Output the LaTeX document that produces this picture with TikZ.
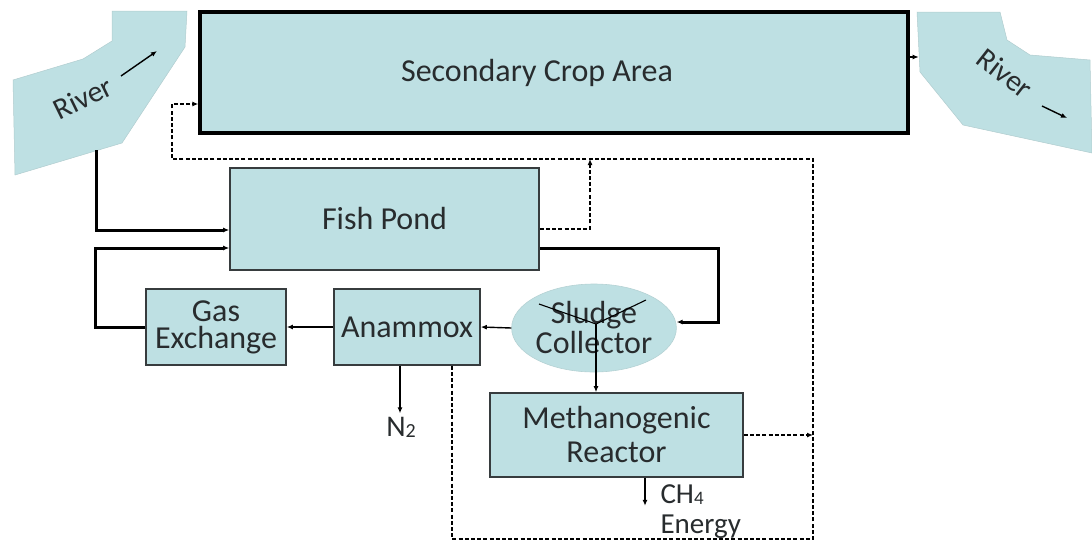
\documentclass[tikz,border=0pt]{standalone}
\usepackage{fontspec}
\setmainfont{Carlito}
\usetikzlibrary{arrows.meta,shapes.geometric}
\definecolor{pondfill}{RGB}{190,224,227}
\definecolor{boxline}{RGB}{55,60,62}
\definecolor{inktext}{RGB}{40,44,46}
\begin{document}
\begin{tikzpicture}[x=1pt,y=1pt,
  box/.style={draw=boxline,line width=1.6pt,fill=pondfill,inner sep=0pt,align=center,text=inktext,
    font=\fontsize{32}{30}\selectfont},
  heavy/.style={line width=3pt},
  light/.style={line width=1.4pt},
  tipA/.style={-{Latex[length=6pt,width=5pt]}},
  dashline/.style={line width=1.2pt,dash pattern=on 4pt off 2.2pt},
  lbl/.style={text=inktext,font=\fontsize{30}{32}\selectfont}]
\useasboundingbox (0,0) rectangle (1092,-546);
\fill[pondfill,draw=pondfill!80!gray,line width=0.5pt] (13,-80) -- (83,-59) -- (112,-41) -- (112,-11) -- (187,-11)
  -- (185,-47) -- (122,-143) -- (15,-175) -- cycle;
\fill[pondfill,draw=pondfill!80!gray,line width=0.5pt] (917,-12) -- (1000,-12) -- (1007,-40) -- (1030,-55) -- (1090,-60)
  -- (1092,-153) -- (963,-125) -- (920,-72) -- cycle;
\node[lbl,rotate=26,inner sep=1pt] (riverL) at (83,-98) {River};
\node[lbl,rotate=-38,inner sep=1pt] (riverR) at (1005,-73) {River};
\coordinate (rlA) at (121,-76);
\coordinate (rlB) at (157,-51);
\coordinate (rrA) at (1042,-106);
\coordinate (rrB) at (1067,-118);
\draw[light,tipA] (rlA) -- (rlB);
\draw[light,tipA] (rrA) -- (rrB);
\node[box,line width=3.4pt,draw=black,minimum width=708pt,minimum height=121pt] (crop) at (554,-72.5) {Secondary Crop Area\hspace*{34pt}};
\node[box,minimum width=309pt,minimum height=102pt] (fish) at (384.5,-219) {Fish Pond};
\node[box,minimum width=140pt,minimum height=76pt,font=\fontsize{32}{27}\selectfont] (gas) at (216,-327) {Gas\\Exchange};
\node[box,minimum width=146pt,minimum height=76pt] (anam) at (407,-327) {Anammox};
\node[ellipse,fill=pondfill,draw=pondfill!85!gray,line width=0.6pt,minimum width=130pt,minimum height=88pt,inner sep=0pt,
  align=center,text=inktext,font=\fontsize{32}{30}\selectfont] (sludge) at (594,-328) {Sludge\\Collector};
\node[box,minimum width=253pt,minimum height=84pt,font=\fontsize{32}{34}\selectfont] (meth) at (616.5,-435) {Methanogenic\\Reactor};
\node[lbl] (nitro) at (401,-427) {N\raisebox{-1pt}{\fontsize{20}{20}\selectfont 2}};
\node[lbl,anchor=north west,align=left,font=\fontsize{29}{30}\selectfont] (ch4) at (657,-481) {CH\raisebox{-1pt}{\fontsize{19}{19}\selectfont 4}\\Energy};
\coordinate (rivOut) at (96,-150);
\coordinate (loopL) at (95,-327);
\coordinate (fsR) at (718,-248);
\coordinate (dTL) at (172,-159);
\coordinate (dTR) at (813,-159);
\coordinate (dBR) at (813,-539);
\coordinate (dBL) at (452,-539);
\coordinate (fishUp) at (590,-159);
\coordinate (jct) at (596,-324);
\coordinate (sgL) at (539,-304);
\coordinate (sgR) at (646,-300);
\draw[heavy,tipA] (rivOut) |- ([yshift=-11]fish.west);
\draw[heavy,tipA] (gas.west) -- (loopL) |- ([yshift=-29]fish.west);
\draw[heavy,tipA] ([yshift=-29]fish.east) -- (fsR) |- ([yshift=6]sludge.east);
\draw[light,tipA] (anam.west) -- (gas.east);
\draw[light,tipA] (sludge.west) -- (anam.east);
\draw[line width=1.1pt] (sgL) -- (jct) -- (sgR);
\draw[light,tipA] (jct) -- (jct |- meth.north);
\draw[light,tipA] ([xshift=-7]anam.south) -- ([xshift=-1]nitro.north);
\draw[line width=2pt,tipA] ([xshift=28.5]meth.south) -- ++(0,-28);
\draw[line width=1.8pt,tipA] ([yshift=15.5]crop.east) -- ++(9,0);
\draw[dashline,tipA] ([yshift=-10]fish.east) -| (fishUp);
\draw[dashline,tipA] ([xshift=45]anam.south) -- (dBL) -- (dBR) -- (dTR) -- (dTL) |- ([yshift=-31.5]crop.west);
\draw[dashline,tipA] (meth.east) -- (meth.east -| dTR);
\end{tikzpicture}
\end{document}
